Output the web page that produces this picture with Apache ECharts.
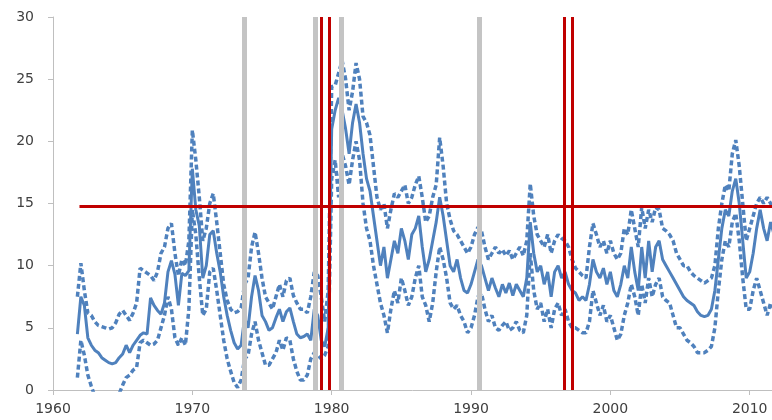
<!DOCTYPE html>
<html>
<head>
<meta charset="utf-8">
<script src="https://cdn.jsdelivr.net/npm/echarts@6/dist/echarts.min.js"></script>
<style>html,body{margin:0;padding:0;background:#fff}#chart{width:772px;height:420px}</style>
</head>
<body>
<div id="chart"></div>
<script>
// Quarterly observations starting 1961 Q4
const startYear = 1961.75;
const step = 0.25;
const center = [
  4.5,
  7.5, 6.8, 4.2, 3.6,
  3.2, 3.0, 2.6, 2.4,
  2.2, 2.1, 2.2, 2.6,
  2.9, 3.6, 3.0, 3.6,
  4.0, 4.4, 4.6, 4.5,
  7.4, 6.8, 6.4, 6.1,
  7.0, 9.5, 10.4, 9.3,
  6.8, 9.4, 9.2, 9.6,
  17.8, 14.5, 13.2, 9.0,
  10.0, 12.5, 12.8, 11.0,
  9.5, 7.5, 6.0, 4.8,
  3.8, 3.3, 3.6, 5.8,
  5.0, 7.5, 9.2, 8.0,
  6.0, 5.5, 4.8, 5.0,
  5.8, 6.5, 5.5, 6.3,
  6.6, 5.5, 4.5, 4.2,
  4.3, 4.5, 4.0, 6.5,
  6.0, 4.0, 3.5, 5.0,
  21.0, 22.5, 23.5, 22.5,
  21.0, 19.0, 21.5, 23.0,
  21.5, 19.0, 17.0, 16.0,
  14.0, 12.0, 10.0, 11.5,
  9.0, 10.5, 12.0, 11.0,
  13.0, 12.0, 10.5, 12.5,
  13.0, 14.0, 11.5, 9.5,
  10.5, 12.0, 13.5, 15.5,
  14.0, 12.0, 10.0, 9.5,
  10.5, 9.0, 8.0, 7.8,
  8.5, 9.5, 10.5, 10.0,
  9.0, 8.0, 9.0, 8.2,
  7.5, 8.5, 7.8, 8.6,
  7.6, 8.5, 8.0, 7.5,
  9.0, 13.5, 11.0, 9.5,
  10.0, 8.5, 9.5, 7.5,
  9.5, 10.0, 9.0, 9.5,
  8.5, 8.0, 7.8, 7.2,
  7.5, 7.2, 8.5, 10.5,
  9.5, 9.0, 9.8, 8.5,
  9.5, 8.0, 7.5, 8.5,
  10.0, 9.0, 11.5, 9.5,
  8.0, 11.5, 9.0, 12.0,
  9.5, 11.5, 12.0, 10.5,
  10.0, 9.5, 9.0, 8.5,
  8.0, 7.5, 7.2, 7.0,
  6.8, 6.3, 6.0, 5.9,
  6.0, 6.5, 8.0, 10.5,
  13.0, 14.5, 14.0, 16.0,
  17.0, 15.0, 12.0, 9.0,
  9.5, 11.0, 13.0, 14.5,
  13.0, 12.0, 13.5, 12.5
];
const upper = [
  7.5,
  10.2, 8.0, 6.2, 6.0,
  5.5, 5.2, 5.1, 5.0,
  4.9, 5.0, 5.4, 6.1,
  6.4, 6.0, 5.6, 6.2,
  7.0, 9.8, 9.6, 9.4,
  9.2, 8.8, 9.5, 11.0,
  11.5, 13.0, 13.4, 11.0,
  9.2, 10.5, 10.0, 12.0,
  20.9, 18.5, 15.5, 12.0,
  13.0, 15.0, 15.8, 13.5,
  11.0, 8.5, 7.2, 6.5,
  6.2, 6.3, 6.6, 8.5,
  9.0, 11.5, 12.7, 11.0,
  9.0, 7.5, 7.0, 6.5,
  7.5, 8.5, 7.5, 8.8,
  9.0, 7.6, 7.0, 6.5,
  6.5, 6.2, 7.5, 9.5,
  9.2, 7.5, 5.5, 8.0,
  24.4, 24.5, 25.5, 26.5,
  25.0, 22.5, 24.0, 26.3,
  25.0, 22.0, 21.5, 20.5,
  18.0, 15.5, 14.5, 15.0,
  13.0, 14.5, 15.8, 15.5,
  16.0, 16.5, 15.0, 15.5,
  16.5, 17.2, 15.5, 13.5,
  14.0, 15.5, 16.5, 20.3,
  18.0, 15.0, 13.7, 12.8,
  12.5, 12.0, 11.5, 11.0,
  11.5, 12.5, 13.1, 12.8,
  11.5, 10.5, 11.0, 11.5,
  11.0, 11.3, 10.8, 11.2,
  10.5, 11.0, 11.5, 10.8,
  12.0, 16.6, 14.0, 12.5,
  12.0, 11.5, 12.5, 11.0,
  12.0, 12.5, 12.2, 12.0,
  11.5, 10.5, 9.8, 9.5,
  9.2, 9.0, 11.5, 13.4,
  12.5, 11.5, 12.0, 11.0,
  12.0, 11.0, 10.5, 11.0,
  13.0, 12.5, 14.5, 13.0,
  11.5, 14.7, 13.0, 14.5,
  13.5, 14.7, 14.5, 13.0,
  12.8, 12.5, 12.0, 11.0,
  10.5, 10.0, 10.0, 9.5,
  9.2, 9.0, 8.8, 8.6,
  8.8, 9.0, 10.0, 13.0,
  15.0, 16.5, 16.0, 19.0,
  20.1, 18.0, 15.0, 12.0,
  13.0, 14.0, 15.0, 15.5,
  15.0, 15.5, 15.0, 14.5
];
const lower = [
  1.0,
  4.0, 2.8, 1.2, 0.3,
  -0.5, -1.0, -1.5, -1.5,
  -1.5, -1.2, -1.0, -0.3,
  0.4, 1.0, 1.2, 1.6,
  1.8, 3.8, 4.0, 3.8,
  3.6, 3.7, 4.0, 5.0,
  6.0, 7.5, 6.5, 4.2,
  3.6, 4.2, 3.6, 6.5,
  14.5, 12.5, 9.0, 6.0,
  6.5, 9.5, 9.8, 8.0,
  6.0, 4.0, 2.5, 1.5,
  0.6, 0.2, 0.8, 2.5,
  2.8, 4.5, 5.5, 4.0,
  3.0, 2.0, 2.0, 2.5,
  3.0, 4.0, 3.2, 4.2,
  4.0, 2.5, 1.5, 0.8,
  0.8, 1.2, 2.5, 3.0,
  2.8, 2.5, 2.8, 3.5,
  17.0, 18.5, 15.5, 19.0,
  18.0, 16.5, 18.5, 20.0,
  18.5, 15.0, 13.0, 12.0,
  10.0, 8.5, 7.0, 6.0,
  4.6, 6.5, 8.0, 7.0,
  9.0, 8.0, 6.8, 7.5,
  9.0, 10.0, 7.5, 6.8,
  5.5, 7.0, 9.5, 11.5,
  10.5, 9.0, 7.0, 6.5,
  6.8, 6.0, 5.5, 4.6,
  5.0, 6.0, 7.5, 7.8,
  6.5, 5.5, 6.0, 5.0,
  4.8, 5.2, 5.5, 4.8,
  5.0, 5.5, 4.8, 4.6,
  6.0, 11.0, 8.0, 6.5,
  7.0, 5.5, 6.5, 5.0,
  6.5, 7.0, 6.0, 6.5,
  5.5, 5.0, 5.0, 4.8,
  4.6, 4.6, 5.5, 8.0,
  7.0, 6.0, 6.8, 5.5,
  6.0, 5.0, 4.0, 4.5,
  6.0, 7.0, 8.5, 7.5,
  6.0, 8.5, 7.0, 9.0,
  7.5, 8.5, 9.0, 7.5,
  7.2, 7.0, 6.0, 5.0,
  5.0, 4.5, 4.0, 3.8,
  3.5, 3.0, 3.0, 3.0,
  3.2, 3.5, 5.0, 8.0,
  10.5, 12.0, 11.5, 13.5,
  14.2, 12.0, 9.0, 6.5,
  6.5, 8.0, 9.0, 8.0,
  7.0, 6.0, 7.0, 6.5
];
const grayYears = [1973.75, 1978.8, 1980.7, 1990.6];
const redYears = [1979.25, 1979.8, 1996.7, 1997.25];
const threshold = 14.8;
const thresholdStart = 1961.9;
const xMin = 1960, xMax = 2011.6, xStep = 10;
const yMin = 0, yMax = 30, yStep = 5;

const years = center.map((_, i) => startYear + i * step);
const pair = arr => arr.map((v, i) => [years[i], v]);

const blue = '#4f81bd';
const chart = echarts.init(document.getElementById('chart'), null, {renderer: 'canvas'});
const labelFont = {fontFamily: 'DejaVu Sans', fontSize: 14, color: '#404040'};

chart.setOption({
  animation: false,
  grid: {left: 53, right: 0, top: 17, bottom: 30, containLabel: false},
  xAxis: {
    type: 'value', min: xMin, max: xMax, interval: xStep,
    axisLine: {show: true, lineStyle: {color: '#bfbfbf', width: 1}},
    axisTick: {show: true, length: 5, lineStyle: {color: '#bfbfbf'}},
    axisLabel: Object.assign({margin: 12, showMaxLabel: false,
      formatter: v => (v % 10 === 0 ? String(v) : '')}, labelFont),
    splitLine: {show: false}
  },
  yAxis: {
    type: 'value', min: yMin, max: yMax, interval: yStep,
    axisLine: {show: true, lineStyle: {color: '#bfbfbf', width: 1}},
    axisTick: {show: true, length: 5, lineStyle: {color: '#bfbfbf'}},
    axisLabel: Object.assign({margin: 19}, labelFont),
    splitLine: {show: false}
  },
  series: [
    {
      type: 'line', data: [], z: 1, silent: true,
      markLine: {
        silent: true, symbol: ['none', 'none'], label: {show: false},
        lineStyle: {color: '#c4c4c4', width: 5, type: 'solid'},
        data: grayYears.map(x => ({xAxis: x}))
      }
    },
    {
      name: 'upper', type: 'line', data: pair(upper), z: 2, showSymbol: false,
      lineStyle: {color: blue, width: 3.5, type: [5, 3], cap: 'butt'}
    },
    {
      name: 'lower', type: 'line', data: pair(lower), z: 2, showSymbol: false,
      lineStyle: {color: blue, width: 3.5, type: [5, 3], cap: 'butt'}
    },
    {
      name: 'center', type: 'line', data: pair(center), z: 2, showSymbol: false,
      lineStyle: {color: blue, width: 3, type: 'solid'}
    },
    {
      type: 'line', data: [], z: 5, silent: true,
      markLine: {
        silent: true, symbol: ['none', 'none'], label: {show: false},
        lineStyle: {color: '#c00000', width: 3, type: 'solid'},
        data: redYears.map(x => ({xAxis: x})).concat([
          [{coord: [thresholdStart, threshold]}, {coord: [xMax, threshold]}]
        ])
      }
    }
  ]
});
</script>
</body>
</html>
